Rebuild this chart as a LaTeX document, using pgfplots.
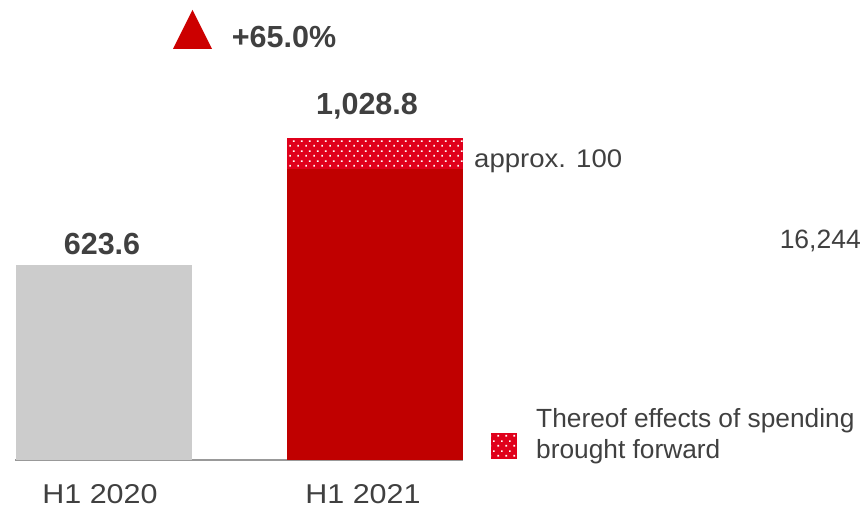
\documentclass[border=0pt]{standalone}
\usepackage{fontspec}
\setmainfont{Liberation Sans}
\usepackage{pgfplots}
\pgfplotsset{compat=1.18}
\usetikzlibrary{patterns.meta}
\definecolor{barred}{HTML}{C00000}
\definecolor{dotred}{HTML}{E0001B}
\definecolor{bargrey}{HTML}{CCCCCC}
\definecolor{txt}{HTML}{404040}
\definecolor{tri}{HTML}{CC0000}
\tikzdeclarepattern{
  name=wdots, type=uncolored,
  bottom left={(0bp,0bp)}, top right={(8bp,10bp)},
  tile size={(8bp,10bp)},
  code={
    \pgfpathrectangle{\pgfpoint{1.5bp}{1.5bp}}{\pgfpoint{1.8bp}{1.8bp}}
    \pgfpathrectangle{\pgfpoint{5.5bp}{6.5bp}}{\pgfpoint{1.8bp}{1.8bp}}
    \pgfusepath{fill}
  }
}
\newcommand\fs[1]{\fontsize{#1bp}{#1bp}\selectfont}
\begin{document}
\begin{tikzpicture}
\useasboundingbox (0,0) rectangle (861bp,508bp);
\begin{axis}[
  at={(15bp,48bp)}, anchor=south west,
  scale only axis, width=448bp, height=460bp,
  xmin=15, xmax=463, ymin=0, ymax=1470,
  axis x line=bottom, axis y line=none,
  axis line style={draw=gray!80, line width=1.3bp, -},
  ybar stacked, bar width=176bp,
  xtick={100,363}, xticklabels={{\scalebox{1.12}[1]{H1 2020}},{\scalebox{1.12}[1]{H1 2021}}},
  ytick=\empty, major tick length=0,
  xticklabel style={anchor=base, yshift=-43bp, inner sep=0pt, text=txt, font=\fs{27.2}},
  clip=false,
]
\addplot[fill=bargrey, draw=none] coordinates {(104,623.6) (375,0)};
\addplot[fill=barred, draw=none] coordinates {(104,0) (375,928.8)};
\addplot[fill=dotred, draw=none, postaction={pattern=wdots, pattern color=white}] coordinates {(104,0) (375,100)};
\end{axis}
% annotations
\node[anchor=base, inner sep=0pt, text=txt, font=\fs{30.5}\bfseries] at (102bp,253bp) {623.6};
\node[anchor=base, inner sep=0pt, text=txt, font=\fs{30.5}\bfseries] at (367bp,393bp) {1,028.8};
\node[anchor=base, inner sep=0pt, text=txt, font=\fs{30.5}\bfseries] at (284bp,460bp) {+65.0\%};
\fill[tri] (173bp,459bp) -- (212bp,459bp) -- (192.5bp,498bp) -- cycle;
\node[anchor=base west, inner sep=0pt, text=txt, font=\fs{25.5}] at (474bp,340.5bp) {\scalebox{1.08}[1]{approx. 100}};
\node[anchor=base east, inner sep=0pt, text=txt, font=\fs{26.5}] at (861bp,259bp) {16,244};
\fill[dotred] (491bp,49bp) rectangle (517bp,75bp);
\fill[pattern=wdots, pattern color=white] (491bp,49bp) rectangle (517bp,75bp);
\node[anchor=base west, inner sep=0pt, text=txt, font=\fs{26.3}] at (536bp,80bp) {Thereof effects of spending};
\node[anchor=base west, inner sep=0pt, text=txt, font=\fs{26.3}] at (536bp,49bp) {brought forward};
\end{tikzpicture}
\end{document}
